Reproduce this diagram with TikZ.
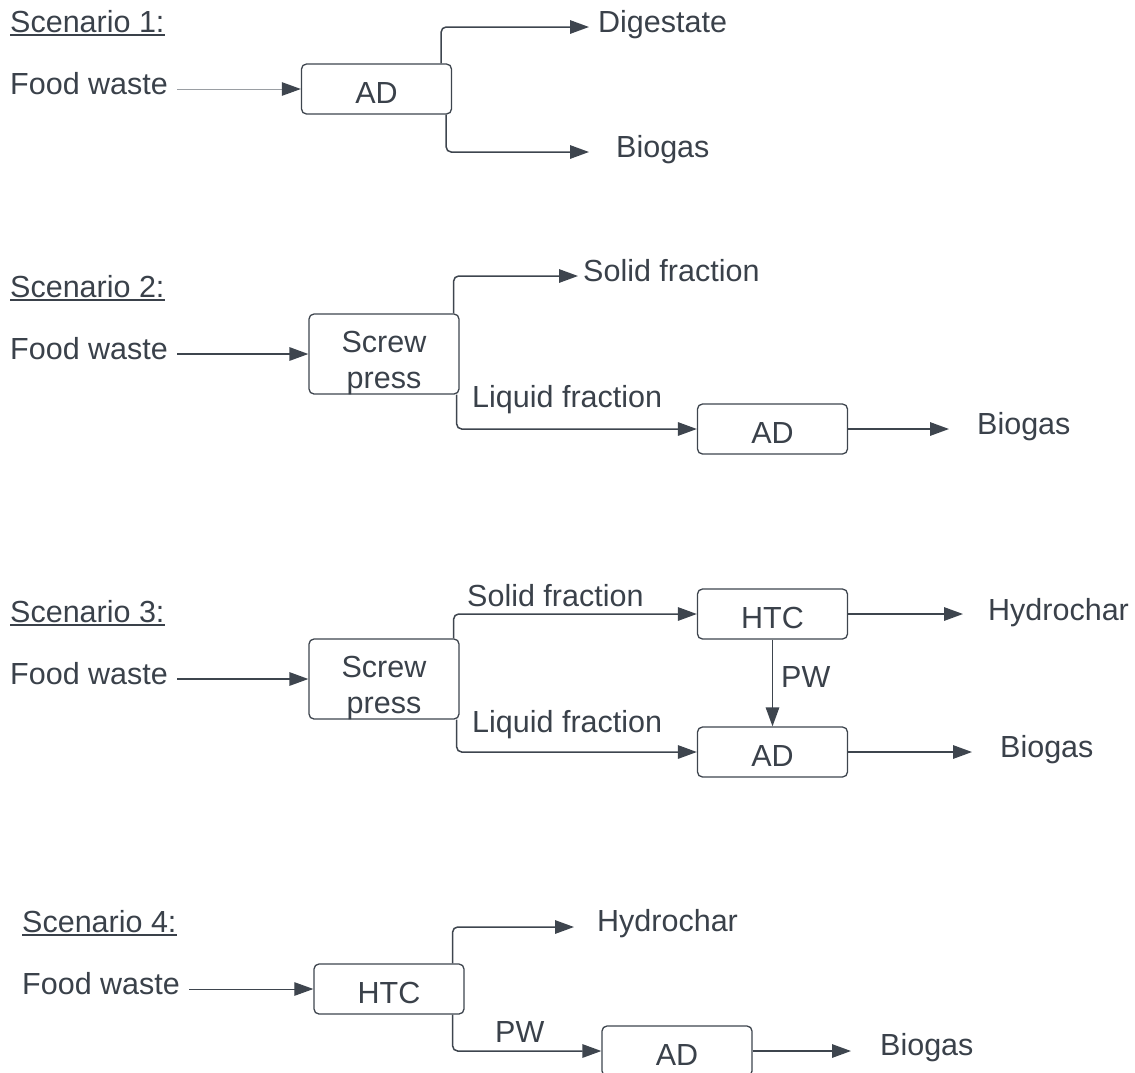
\documentclass[tikz,border=0pt]{standalone}
\usepackage{fontspec}
\setmainfont{Liberation Sans}
\usetikzlibrary{arrows.meta}
\definecolor{tc}{HTML}{3A414A}
\definecolor{lc}{HTML}{3E454E}
\definecolor{lg}{HTML}{9A9EA3}
\tikzset{
  txt/.style={inner sep=0pt, anchor=base west, text=tc, font=\fontsize{30.5}{36}\selectfont},
  box/.style={draw=lc, line width=1.3pt, rounded corners=5pt, minimum width=150pt, minimum height=50pt,
    inner sep=0pt, text height=28pt, text depth=0pt, text=tc, font=\fontsize{30.5}{36}\selectfont},
  spbox/.style={box, minimum height=80pt, text height=68pt, text depth=0pt},
  arr/.style={draw=lc, line width=1.5pt, -{Triangle[length=19pt,width=13.5pt]}},
  brarr/.style={arr, rounded corners=5pt},
  thinarr/.style={arr, line width=1pt},
  grayarr/.style={arr, draw=lg, line width=1pt, -{Triangle[length=19pt,width=13.5pt,color=lc]}},
  uline/.style={draw=tc, line width=1.6pt}
}
\newcommand{\twoline}[2]{\begin{tabular}[b]{@{}c@{}}#1\\#2\end{tabular}}
\begin{document}
\begin{tikzpicture}[x=1pt,y=-1pt]
\useasboundingbox (0,0) rectangle (1135,1072);

% ---------- Scenario 1 ----------
\node[txt] (h1) at (10,32) {Scenario 1:};
\draw[uline] ([yshift=-3pt]h1.base west) -- ([yshift=-3pt]h1.base east);
\node[txt] (fw1) at (10,94) {Food waste};
\node[box] (ad1) at (376.5,89) {AD};
\node[txt] (dig1) at (598,32) {Digestate};
\node[txt] (bio1) at (616,157) {Biogas};
\coordinate (s1) at ([xshift=9pt]fw1.east |- ad1.west);
\coordinate (t1a) at (589,27);
\coordinate (t1b) at (589,152);
\draw[grayarr] (s1) -- (ad1.west);
\draw[brarr] ([xshift=-11pt]ad1.north east) |- (t1a);
\draw[brarr] ([xshift=-6pt]ad1.south east) |- (t1b);

% ---------- Scenario 2 ----------
\node[txt] (h2) at (10,297) {Scenario 2:};
\draw[uline] ([yshift=-3pt]h2.base west) -- ([yshift=-3pt]h2.base east);
\node[txt] (fw2) at (10,359) {Food waste};
\node[spbox] (sp2) at (384,354) {\twoline{Screw}{press}};
\node[box] (ad2) at (772.5,429) {AD};
\node[txt] (sol2) at (583,281) {Solid fraction};
\node[txt] (liq2) at (472,407) {Liquid fraction};
\node[txt] (bio2) at (977,434) {Biogas};
\coordinate (s2) at ([xshift=9pt]fw2.east |- sp2.west);
\coordinate (t2a) at (578,276);
\coordinate (t2b) at (949,429);
\draw[arr] (s2) -- (sp2.west);
\draw[brarr] ([xshift=-6pt]sp2.north east) |- (t2a);
\draw[brarr] ([xshift=-3pt]sp2.south east) |- (ad2.west);
\draw[arr] (ad2.east) -- (t2b);

% ---------- Scenario 3 ----------
\node[txt] (h3) at (10,622) {Scenario 3:};
\draw[uline] ([yshift=-3pt]h3.base west) -- ([yshift=-3pt]h3.base east);
\node[txt] (fw3) at (10,684) {Food waste};
\node[spbox] (sp3) at (384,679) {\twoline{Screw}{press}};
\node[box] (htc3) at (772.5,614) {HTC};
\node[box] (ad3) at (772.5,752) {AD};
\node[txt] (sol3) at (467,606) {Solid fraction};
\node[txt] (liq3) at (472,732) {Liquid fraction};
\node[txt] (hyd3) at (988,620) {Hydrochar};
\node[txt] (pw3) at (781,687) {PW};
\node[txt] (bio3) at (1000,757) {Biogas};
\coordinate (s3) at ([xshift=9pt]fw3.east |- sp3.west);
\coordinate (t3a) at (963,614);
\coordinate (t3b) at (972,752);
\draw[arr] (s3) -- (sp3.west);
\draw[brarr] ([xshift=-6pt]sp3.north east) |- (htc3.west);
\draw[brarr] ([xshift=-3pt]sp3.south east) |- (ad3.west);
\draw[arr] (htc3.east) -- (t3a);
\draw[arr] (htc3.south) -- (ad3.north);
\draw[arr] (ad3.east) -- (t3b);

% ---------- Scenario 4 ----------
\node[txt] (h4) at (22,932) {Scenario 4:};
\draw[uline] ([yshift=-3pt]h4.base west) -- ([yshift=-3pt]h4.base east);
\node[txt] (fw4) at (22,994) {Food waste};
\node[box] (htc4) at (389,989) {HTC};
\node[box] (ad4) at (677,1051) {AD};
\node[txt] (hyd4) at (597,931) {Hydrochar};
\node[txt] (pw4) at (495,1042) {PW};
\node[txt] (bio4) at (880,1055) {Biogas};
\coordinate (s4) at ([xshift=9pt]fw4.east |- htc4.west);
\coordinate (t4a) at (574,927);
\coordinate (t4b) at (851,1051);
\draw[thinarr] (s4) -- (htc4.west);
\draw[brarr] ([xshift=-12pt]htc4.north east) |- (t4a);
\draw[brarr] ([xshift=-12pt]htc4.south east) |- (ad4.west);
\draw[arr] (ad4.east) -- (t4b);
\end{tikzpicture}
\end{document}
